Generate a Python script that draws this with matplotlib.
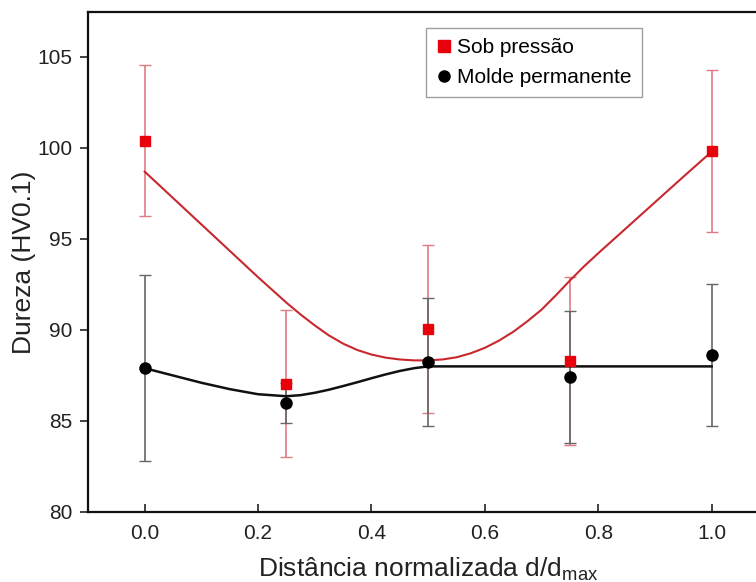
import matplotlib
matplotlib.use('Agg')
import matplotlib.pyplot as plt
import numpy as np

plt.rcParams['font.family'] = ['Liberation Sans', 'DejaVu Sans']

# pontos medidos
dist = [0.0, 0.25, 0.5, 0.75, 1.0]
sob_pressao = [100.4, 87.05, 90.05, 88.3, 99.85]
sob_pressao_err = [4.15, 4.05, 4.6, 4.6, 4.45]
molde = [87.9, 85.97, 88.26, 87.43, 88.6]
molde_err = [5.1, 1.1, 3.52, 3.63, 3.9]

# curvas ajustadas
curva_x = [0.0, 0.05, 0.10, 0.15, 0.20, 0.25,
           0.275, 0.30, 0.325, 0.35, 0.375, 0.40, 0.425, 0.45, 0.475, 0.50,
           0.525, 0.55, 0.575, 0.60, 0.625, 0.65, 0.675, 0.70, 0.725,
           0.75, 0.775, 0.80, 0.85, 0.90, 0.95, 1.00]
curva_sob = [98.7, 97.25, 95.8, 94.35, 92.9, 91.5,
             90.85, 90.25, 89.7, 89.25, 88.9, 88.65, 88.48, 88.38, 88.33, 88.33,
             88.38, 88.5, 88.72, 89.02, 89.42, 89.9, 90.48, 91.12, 91.9,
             92.72, 93.5, 94.22, 95.62, 97.02, 98.42, 99.8]
curva_molde = [87.9, 87.5, 87.1, 86.75, 86.47, 86.36,
               86.42, 86.55, 86.72, 86.92, 87.13, 87.35, 87.56, 87.75, 87.9, 88.0,
               88.0, 88.0, 88.0, 88.0, 88.0, 88.0, 88.0, 88.0, 88.0,
               88.0, 88.0, 88.0, 88.0, 88.0, 88.0, 88.0]

fig = plt.figure(figsize=(7.56, 5.82), dpi=100)
ax = fig.add_axes([0.1164, 0.1203, 0.900, 0.859])

ax.plot(curva_x, curva_sob, color='#c8282d', lw=1.5, zorder=2)
ax.plot(curva_x, curva_molde, color='#111111', lw=1.8, zorder=2)

ax.errorbar(dist, sob_pressao, yerr=sob_pressao_err, fmt='none', ecolor='#e27a84',
            elinewidth=1.2, capsize=4, capthick=1.0, zorder=1)
ax.errorbar(dist, molde, yerr=molde_err, fmt='none', ecolor='#666666',
            elinewidth=1.2, capsize=4, capthick=1.0, zorder=1)

h1, = ax.plot(dist, sob_pressao, 's', color='#e8000b', ms=7, ls='none', zorder=4,
              label='Sob pressão')
h2, = ax.plot(dist, molde, 'o', color='black', ms=8, ls='none', zorder=3,
              label='Molde permanente')

ax.set_xlim(-0.1, 1.1)
ax.set_ylim(80, 107.47)
ax.set_xticks([0.0, 0.2, 0.4, 0.6, 0.8, 1.0])
ax.set_yticks([80, 85, 90, 95, 100, 105])
ax.xaxis.set_major_formatter(matplotlib.ticker.FormatStrFormatter('%.1f'))
ax.tick_params(axis='x', direction='in', length=6, width=1.2, labelsize=15,
               pad=9, colors='#222222')
ax.tick_params(axis='y', direction='out', length=6, width=1.2, labelsize=15,
               pad=5, colors='#222222')
for s in ax.spines.values():
    s.set_linewidth(1.6)
    s.set_color('#111111')

ax.set_xlabel('Distância normalizada d/d$_{\\mathregular{max}}$', fontsize=19,
              color='#222222', labelpad=9)
ax.set_ylabel('Dureza (HV0.1)', fontsize=19, color='#222222', labelpad=1)

leg = ax.legend(handles=[h1, h2], loc='upper left', bbox_to_anchor=(0.497, 0.968),
                fontsize=15, frameon=True, fancybox=False, borderpad=0.5,
                handletextpad=0.3, handlelength=0.7, labelspacing=0.5,
                borderaxespad=0)
leg.get_frame().set_edgecolor('#888888')
leg.get_frame().set_linewidth(1.0)
for h in leg.legend_handles:
    h.set_markersize(8)

fig.savefig('out.png', dpi=100)
